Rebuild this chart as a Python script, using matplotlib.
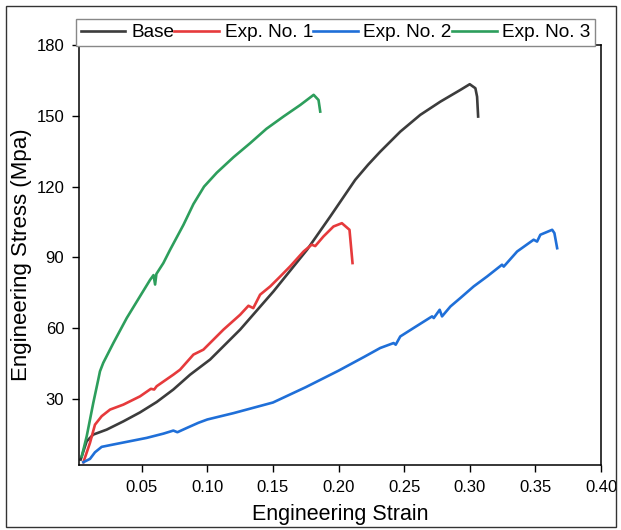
import matplotlib
matplotlib.use("Agg")
import matplotlib.pyplot as plt
from matplotlib.patches import Rectangle

plt.rcParams['font.family'] = ['Liberation Sans', 'DejaVu Sans']

# courbes (deformation, contrainte en MPa)
base_x = [0.0035, 0.0081, 0.0131, 0.0233, 0.036, 0.0487, 0.0614, 0.0741, 0.0869, 0.1021,
          0.125, 0.1504, 0.1759, 0.1936, 0.2127, 0.2225, 0.2317, 0.247, 0.2622, 0.2775,
          0.2928, 0.2999, 0.3042, 0.3055, 0.3063]
base_y = [4.3, 12.1, 14.9, 17.0, 20.5, 24.3, 28.7, 34.0, 40.3, 46.7,
          59.4, 75.6, 93.2, 107.3, 122.9, 129.3, 134.8, 143.3, 150.4, 156.0,
          161.0, 163.4, 161.7, 158.1, 149.7]

exp1_x = [0.0056, 0.0106, 0.0144, 0.0195, 0.0259, 0.036, 0.0487, 0.057, 0.0595, 0.0614,
          0.0741, 0.0792, 0.0894, 0.097, 0.1123, 0.125, 0.1313, 0.135, 0.1402, 0.1479,
          0.1555, 0.1631, 0.1733, 0.1795, 0.1822, 0.1885, 0.1961, 0.2025, 0.2083, 0.2106]
exp1_y = [3.2, 11.4, 19.1, 22.7, 25.5, 27.6, 31.1, 34.3, 34.0, 35.4,
          40.3, 42.4, 48.8, 50.9, 59.4, 65.7, 69.5, 68.5, 74.2, 77.7,
          81.9, 86.2, 92.5, 95.4, 94.8, 98.9, 103.1, 104.5, 101.7, 87.6]

exp2_x = [0.0056, 0.0106, 0.0144, 0.0195, 0.0284, 0.0411, 0.0538, 0.0665, 0.0741, 0.0772,
          0.0843, 0.0932, 0.10, 0.12, 0.15, 0.175, 0.20, 0.22, 0.2317, 0.2419,
          0.2435, 0.247, 0.2572, 0.2712, 0.2725, 0.277, 0.2788, 0.2852, 0.2928, 0.3029,
          0.3131, 0.3245, 0.3258, 0.336, 0.3486, 0.3512, 0.3537, 0.3627, 0.3644, 0.3665]
exp2_y = [3.2, 4.6, 7.4, 9.7, 10.7, 12.1, 13.5, 15.3, 16.6, 15.9,
          17.7, 19.9, 21.3, 24.0, 28.5, 35.0, 42.0, 48.0, 51.6, 53.7,
          53.0, 56.5, 60.1, 65.0, 64.3, 67.8, 65.0, 69.2, 72.8, 77.7,
          81.9, 86.9, 86.1, 92.5, 97.5, 96.7, 99.6, 101.7, 100.3, 93.9]

exp3_x = [0.0043, 0.0081, 0.0131, 0.0169, 0.0182, 0.0207, 0.0284, 0.0386, 0.0487, 0.0564,
          0.059, 0.0602, 0.0612, 0.0665, 0.0716, 0.0818, 0.0894, 0.0975, 0.1072, 0.12,
          0.1326, 0.145, 0.158, 0.1708, 0.181, 0.1847, 0.186]
exp3_y = [5.6, 14.2, 28.3, 38.2, 41.7, 45.3, 53.7, 64.3, 73.5, 80.5,
          82.5, 78.5, 83.0, 87.6, 93.2, 103.8, 112.6, 120.0, 125.9, 132.5,
          138.4, 144.5, 149.7, 154.6, 158.9, 156.7, 151.8]

labels = ["Base", "Exp. No. 1", "Exp. No. 2", "Exp. No. 3"]
colors = ["#3c3c3c", "#e63a3c", "#1f6fd8", "#2d9e5c"]

xticks = [0.05, 0.10, 0.15, 0.20, 0.25, 0.30, 0.35, 0.40]
yticks = [30, 60, 90, 120, 150, 180]

fig = plt.figure(figsize=(6.21, 5.30), dpi=100)
ax = fig.add_axes([0.128, 0.1226, 0.84, 0.7924])

series = [(base_x, base_y), (exp1_x, exp1_y), (exp2_x, exp2_y), (exp3_x, exp3_y)]
for (sx, sy), lab, c in zip(series, labels, colors):
    ax.plot(sx, sy, color=c, lw=1.9, label=lab)

ax.set_xlim(0.0026, 0.40)
ax.set_ylim(2, 180)
ax.set_xticks(xticks)
ax.set_xticklabels(["%.2f" % t for t in xticks])
ax.set_yticks(yticks)
ax.tick_params(direction='out', length=5, width=1, labelsize=12, pad=6)
for s in ax.spines.values():
    s.set_linewidth(1.1)

ax.set_xlabel("Engineering Strain", fontsize=15.5, labelpad=6)
ax.set_ylabel("Engineering Stress (Mpa)", fontsize=16, labelpad=3)

leg = fig.legend(loc='lower left', bbox_to_anchor=(0.1224, 0.913), ncol=4,
                 fontsize=13.7, handlelength=2.35, handletextpad=0.3, columnspacing=0.0,
                 borderpad=0.25, borderaxespad=0, fancybox=False, framealpha=1)
leg.get_frame().set_edgecolor("#888888")
leg.get_frame().set_linewidth(1.0)

# cadre autour de la figure
fig.patches.append(Rectangle((0.0097, 0.005), 0.982, 0.984, transform=fig.transFigure,
                             fill=False, edgecolor="#333333", lw=1.0))

fig.savefig("out.png", dpi=100)
